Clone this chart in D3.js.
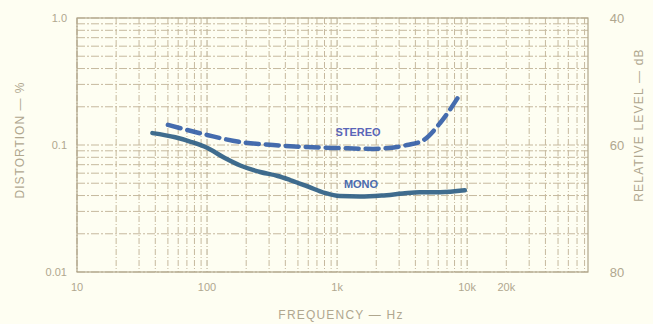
<!DOCTYPE html>
<html><head><meta charset="utf-8">
<script src="https://cdn.jsdelivr.net/npm/d3@7"></script>
<style>
html,body{margin:0;padding:0;background:#fefef2;}
svg{display:block;}
text{font-family:"Liberation Sans",Arial,sans-serif;fill:#b0a78f;}
</style></head>
<body>
<script>
// ---- data ----
const monoFreq  = [38, 57, 75, 100, 137, 180, 256, 350, 435, 600, 800, 1050, 1500, 2200, 3200, 4300, 6200, 9600];
const monoDist  = [0.124, 0.115, 0.106, 0.095, 0.079, 0.069, 0.0613, 0.057, 0.053, 0.047, 0.042, 0.0396, 0.0393, 0.040, 0.0415, 0.0425, 0.0425, 0.044];
const stereoFreq = [50, 100, 179, 322, 588, 1050, 1890, 3450, 4600, 6200, 8800];
const stereoDist = [0.144, 0.12, 0.1056, 0.1, 0.0963, 0.0945, 0.0932, 0.1, 0.109, 0.149, 0.25];
const xTicks = [10, 100, 1000, 10000, 20000];
const xTickLabels = ["10", "100", "1k", "10k", "20k"];
const yTicks = [1.0, 0.1, 0.01];
const yTickLabels = ["1.0", "0.1", "0.01"];
const dbTicks = [40, 60, 80];

const W = 653, H = 324;
const m = {left:77, right:588, top:18, bottom:272};

const svg = d3.select("body").append("svg").attr("width", W).attr("height", H);
svg.append("rect").attr("width", W).attr("height", H).attr("fill", "#fefef2");

const x = d3.scaleLog().domain([10, 85000]).range([m.left, m.right]);
const y = d3.scaleLog().domain([0.01, 1.0]).range([m.bottom, m.top]);
const yR = d3.scaleLinear().domain([40, 80]).range([m.top, m.bottom]);

// grid
const g = svg.append("g");
const xGrid = [];
for (let d = 10; d <= 10000; d *= 10) for (let k = 1; k <= 9; k++) { const v = d*k; if (v <= 85000) xGrid.push(v); }
const yGrid = [];
for (let d = 0.01; d < 1; d *= 10) for (let k = 1; k <= 9; k++) yGrid.push(d*k);
yGrid.push(1.0);

g.selectAll(".vx").data(xGrid).join("line")
  .attr("x1", d => x(d)).attr("x2", d => x(d))
  .attr("y1", m.top).attr("y2", m.bottom)
  .attr("stroke", d => (Math.abs(Math.log10(d) % 1) < 1e-6) ? "#b3a68a" : "#c6b99e")
  .attr("stroke-width", 1)
  .attr("stroke-dasharray", "6,2,1,2");
g.selectAll(".hy").data(yGrid).join("line")
  .attr("y1", d => y(d)).attr("y2", d => y(d))
  .attr("x1", m.left).attr("x2", m.right)
  .attr("stroke", "#c6b99e")
  .attr("stroke-width", 1)
  .attr("stroke-dasharray", "8,2,2,2");
// frame
g.append("rect").attr("x", m.left).attr("y", m.top)
  .attr("width", m.right - m.left).attr("height", m.bottom - m.top)
  .attr("fill", "none").attr("stroke", "#b0a58a").attr("stroke-width", 1.2);

// axes labels via scales
svg.append("g").selectAll("text").data(xTicks).join("text")
  .attr("x", d => x(d)).attr("y", 291)
  .attr("text-anchor", "middle").attr("font-size", 11)
  .text((d, i) => xTickLabels[i]);

svg.append("g").selectAll("text").data(yTicks).join("text")
  .attr("x", 67).attr("y", d => y(d) + 4)
  .attr("text-anchor", "end").attr("font-size", 11)
  .text((d, i) => yTickLabels[i]);

svg.append("g").selectAll("text").data(dbTicks).join("text")
  .attr("x", 617).attr("y", d => yR(d) + 5)
  .attr("text-anchor", "middle").attr("font-size", 13)
  .text(d => d);

svg.append("text").attr("x", 341).attr("y", 319).attr("text-anchor", "middle")
  .attr("font-size", 12).attr("letter-spacing", 1.2).text("FREQUENCY — Hz");
svg.append("text").attr("transform", "translate(24,140) rotate(-90)").attr("text-anchor", "middle")
  .attr("font-size", 12).attr("letter-spacing", 1).text("DISTORTION — %");
svg.append("text").attr("transform", "translate(643,125) rotate(-90)").attr("text-anchor", "middle")
  .attr("font-size", 12).attr("letter-spacing", 1.2).text("RELATIVE LEVEL — dB");

// curves
const line = d3.line().x(d => x(d[0])).y(d => y(d[1])).curve(d3.curveMonotoneX);
svg.append("path").datum(d3.zip(monoFreq, monoDist)).attr("d", line)
  .attr("fill", "none").attr("stroke", "#2f5f86").attr("stroke-width", 4.5)
  .attr("stroke-linecap", "round").attr("opacity", 0.92);
svg.append("path").datum(d3.zip(stereoFreq, stereoDist)).attr("d", line)
  .attr("fill", "none").attr("stroke", "#3560a8").attr("stroke-width", 4.5)
  .attr("stroke-dasharray", "13,7").attr("stroke-linecap", "round").attr("opacity", 0.92);

svg.append("text").attr("x", 358).attr("y", 136).attr("text-anchor", "middle")
  .attr("font-size", 11).attr("font-weight", "bold").style("fill", "#5a66b8").text("STEREO");
svg.append("text").attr("x", 361).attr("y", 188).attr("text-anchor", "middle")
  .attr("font-size", 11).attr("font-weight", "bold").style("fill", "#4a6cb0").text("MONO");
</script>
</body></html>
